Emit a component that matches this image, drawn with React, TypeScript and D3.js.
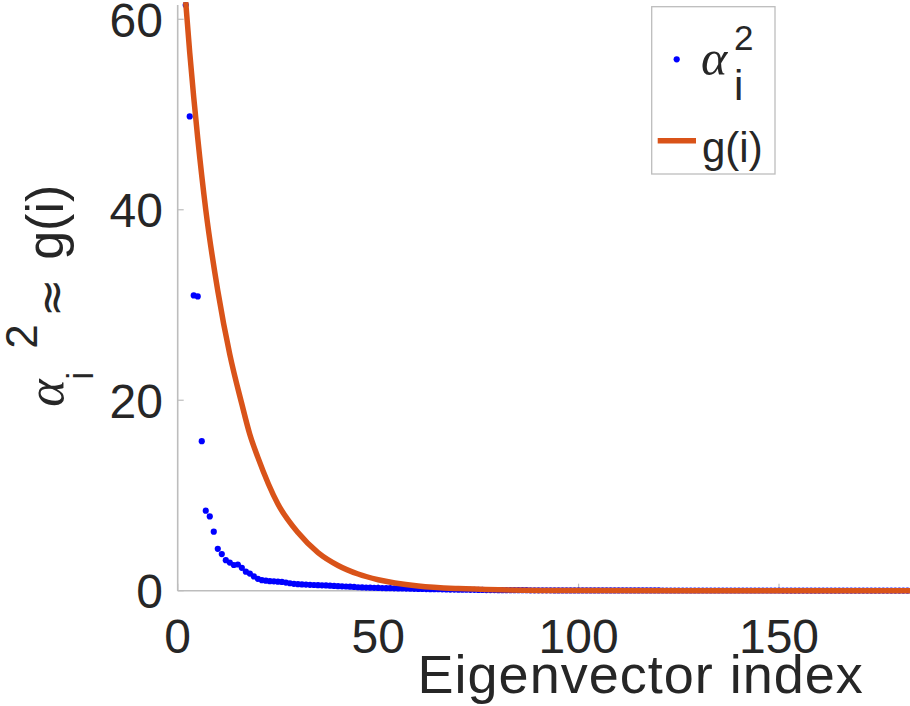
import React from "react";
import * as d3 from "d3";

// alpha_i^2 values, starting at eigenvector index 2
const firstIndex = 2;
const alphaSq = [
  61.5, 49.8, 31.0, 30.9, 15.7, 8.4, 7.8, 6.2, 4.4,
  3.85, 3.2, 2.95, 2.7, 2.75, 2.4, 2.0, 1.8, 1.5, 1.25,
  1.1, 1.05, 1.0, 0.98, 0.95, 0.92, 0.85, 0.78, 0.72, 0.68,
  0.66, 0.64, 0.62, 0.6, 0.58, 0.56, 0.55, 0.53, 0.5, 0.48,
  0.46, 0.44, 0.42, 0.4, 0.36, 0.34, 0.33, 0.32, 0.3, 0.29,
  0.28, 0.27, 0.26, 0.25, 0.24, 0.23, 0.22, 0.21, 0.2, 0.19,
  0.18, 0.17, 0.16, 0.15, 0.15, 0.14, 0.13, 0.12, 0.12, 0.11,
  0.1, 0.1, 0.09, 0.09, 0.08, 0.08, 0.07, 0.07, 0.07, 0.06,
  0.06, 0.06, 0.05, 0.05, 0.05, 0.05, 0.05, 0.04, 0.04, 0.04,
  0.04, 0.04, 0.04, 0.03, 0.03, 0.03, 0.03, 0.03, 0.03, 0.03,
  0.03, 0.03, 0.03, 0.03, 0.03, 0.03, 0.03, 0.03, 0.03, 0.03,
  0.03, 0.03, 0.03, 0.03, 0.03, 0.03, 0.03, 0.03, 0.03, 0.03,
  0.02, 0.02, 0.02, 0.02, 0.02, 0.02, 0.02, 0.02, 0.02, 0.02,
  0.02, 0.02, 0.02, 0.02, 0.02, 0.02, 0.02, 0.02, 0.02, 0.02,
  0.02, 0.02, 0.02, 0.02, 0.02, 0.02, 0.02, 0.02, 0.02, 0.02,
  0.01, 0.01, 0.01, 0.01, 0.01, 0.01, 0.01, 0.01, 0.01, 0.01,
  0.01, 0.01, 0.01, 0.01, 0.01, 0.01, 0.01, 0.01, 0.01, 0.01,
  0.01, 0.01, 0.01, 0.01, 0.01, 0.01, 0.01, 0.01, 0.01, 0.01,
  0.01, 0.01, 0.01,
];

// g(i)
const gIndex = [2, 3, 4, 5, 7, 10, 13, 16, 18, 20, 25, 30, 35, 40, 45, 50, 60, 70, 80, 100, 130, 183];
const gValue = [61.8, 56.5, 51.8, 47.5, 40.0, 31.5, 24.8, 19.6, 16.4, 14.0, 9.1, 6.1, 4.0, 2.65, 1.75, 1.15, 0.5, 0.22, 0.1, 0.02, 0.0, 0.0];

const xTicks = [0, 50, 100, 150];
const yTicks = [0, 20, 40, 60];

const W = 910;
const H = 706;
const blue = "#0000ff";
const orange = "#d95319";
const ink = "#262626";
const axisGray = "#bdbdbd";
const sans = "'Liberation Sans', Arial, Helvetica, sans-serif";
const serif = "'Liberation Serif', 'Times New Roman', serif";

export default function App() {
  const x = d3.scaleLinear().domain([0, 231]).range([177.7, 1103.7]);
  const y = d3.scaleLinear().domain([0, 61.5]).range([590.7, 5]);

  const pts = alphaSq.map((v, i) => ({ i: i + firstIndex, v }));
  const curve = gIndex.map((g, k) => ({ i: g, v: gValue[k] }));

  const line = d3
    .line<{ i: number; v: number }>()
    .x((d) => x(d.i))
    .y((d) => y(d.v))
    .curve(d3.curveMonotoneX);

  const [x0, x1] = x.range();
  const [y0, y1] = y.range();
  const midX = (x0 + x1) / 2;
  const midY = (y0 + y1) / 2;

  return (
    <div style={{ position: "absolute", left: 0, top: 0 }}>
      <svg width={W} height={H} style={{ display: "block", background: "#fff" }}>
        {/* axes */}
        <line x1={x0} x2={x1} y1={y0} y2={y0} stroke={axisGray} strokeWidth={1.6} />
        <line x1={x0} x2={x0} y1={y0} y2={y1} stroke={axisGray} strokeWidth={1.6} />
        {xTicks.map((t) => (
          <g key={"x" + t}>
            <line x1={x(t)} x2={x(t)} y1={y0} y2={y0 - 7} stroke={axisGray} strokeWidth={1.2} />
            <text x={x(t)} y={653} fontFamily={sans} fontSize={48} fill={ink} textAnchor="middle">
              {t}
            </text>
          </g>
        ))}
        {yTicks.map((t) => (
          <g key={"y" + t}>
            <line x1={x0} x2={x0 + 6} y1={y(t)} y2={y(t)} stroke={axisGray} strokeWidth={1.2} />
            <text x={163} y={y(t) + 17.5} fontFamily={sans} fontSize={48} fill={ink} textAnchor="end">
              {t}
            </text>
          </g>
        ))}

        {/* data */}
        {pts.map((d) => (
          <circle key={d.i} cx={x(d.i)} cy={y(d.v)} r={3.1} fill={blue} />
        ))}
        <path d={line(curve) || ""} fill="none" stroke={orange} strokeWidth={5.5} />

        {/* x label */}
        <text x={midX} y={693} fontFamily={sans} fontSize={54} letterSpacing={1} fill={ink} textAnchor="middle">
          Eigenvector index
        </text>

        {/* y label: alpha_i^2 ≈ g(i) */}
        <g transform={`translate(63,${midY}) rotate(-90)`} fill={ink}>
          <text x={-109} y={0} fontFamily={serif} fontStyle="italic" fontSize={52}>α</text>
          <text x={-82} y={30} fontFamily={sans} fontSize={36}>i</text>
          <text x={-51} y={-26} fontFamily={sans} fontSize={44}>2</text>
          <text x={0} y={4} fontFamily="'DejaVu Sans', sans-serif" fontSize={46} textAnchor="middle">≈</text>
          <text x={38} y={0} fontFamily={sans} fontSize={52}>g(i)</text>
        </g>

        {/* legend */}
        <g>
          <rect x={651.7} y={6.7} width={123.3} height={167.3} fill="#fff" stroke={axisGray} strokeWidth={1.3} />
          <circle cx={676.7} cy={59.3} r={3.1} fill={blue} />
          <line x1={657.7} x2={696} y1={140.7} y2={140.7} stroke={orange} strokeWidth={5.5} />
          <text x={701} y={75} fontFamily={serif} fontStyle="italic" fontSize={50} fill={ink}>α</text>
          <text x={734} y={50} fontFamily={sans} fontSize={35} fill={ink}>2</text>
          <text x={734} y={100} fontFamily={sans} fontSize={42} fill={ink}>i</text>
          <text x={702} y={162} fontFamily={sans} fontSize={42} fill={ink}>g(i)</text>
        </g>
      </svg>
    </div>
  );
}
